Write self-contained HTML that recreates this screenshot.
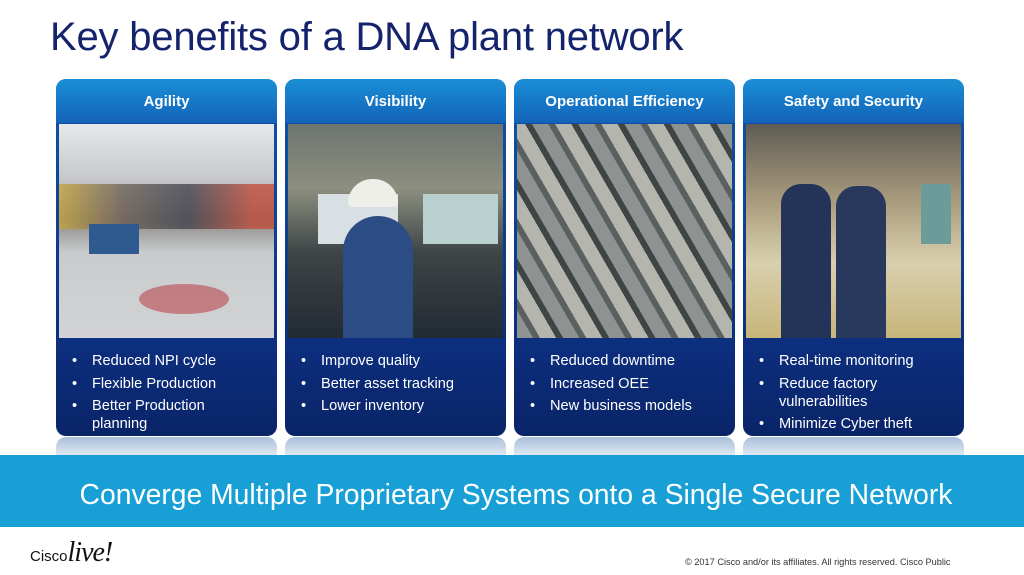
<!DOCTYPE html>
<html><head><meta charset="utf-8"><style>
*{margin:0;padding:0;box-sizing:border-box}
body{width:1024px;height:575px;overflow:hidden;background:#fff;font-family:"Liberation Sans",Arial,sans-serif;position:relative}
.title{position:absolute;left:50px;top:15px;font-size:40px;color:#14236b;letter-spacing:-0.2px}
.card{position:absolute;top:79px;width:221px;height:357px;border-radius:10px;overflow:hidden;
background:linear-gradient(180deg,#1370c4 0px,#0f4fa3 44px,#0c2f80 260px,#0a2468 357px)}
.card .h{position:absolute;top:0;left:0;right:0;height:44px;text-align:center;line-height:46px;color:#fff;font-weight:bold;font-size:15px;
background:linear-gradient(180deg,#1a8fd6,#1363b8)}
.card .img{position:absolute;left:3px;top:45px;width:215px;height:214px}
.card ul{position:absolute;left:16px;top:273px;width:190px;list-style:none;color:#fff;font-size:14.6px;line-height:18px}
.card li{position:relative;padding-left:20px;margin-bottom:4.5px}
.card li:before{content:"•";position:absolute;left:0;top:0}
.refl{position:absolute;top:437px;width:221px;height:18px;border-radius:10px 10px 0 0;background:linear-gradient(180deg,#a9bfd9,#dfe8f2)}
.banner{position:absolute;left:0;top:455px;width:1024px;height:72px;background:#18a0d6;color:#fff;font-size:28.3px;text-align:center;line-height:78px;white-space:nowrap;padding-left:8px}
.foot{position:absolute;left:685px;top:557px;font-size:9.2px;color:#333;white-space:nowrap}
.logo{position:absolute;left:30px;top:537px;color:#111}
</style></head><body>
<div class="title">Key benefits of a DNA plant network</div>

<div class="card" style="left:56px"><div class="h">Agility</div>
<div class="img" style="background:linear-gradient(180deg,#e6e8ea 0%,#c8c9cc 25%,#8c8a86 45%,#c9cbcd 60%,#d2d3d4 100%)">
<div style="position:absolute;left:0;top:60px;width:215px;height:45px;background:linear-gradient(90deg,#c9a53a,#6b5d55 30%,#3c3f4a 60%,#c24a37 90%);opacity:.75"></div>
<div style="position:absolute;left:30px;top:100px;width:50px;height:30px;background:#2f5a90"></div>
<div style="position:absolute;left:80px;top:160px;width:90px;height:30px;border-radius:50%;background:#b9484e;opacity:.6"></div></div>
<ul style="width:175px"><li>Reduced NPI cycle</li><li>Flexible Production</li><li>Better Production planning</li></ul></div>

<div class="card" style="left:285px"><div class="h">Visibility</div>
<div class="img" style="background:linear-gradient(180deg,#6d7470 0%,#8d8f80 30%,#3e4546 60%,#222a33 100%)">
<div style="position:absolute;left:30px;top:70px;width:80px;height:50px;background:#d8e0e4"></div>
<div style="position:absolute;left:135px;top:70px;width:75px;height:50px;background:#b9d0cf"></div>
<div style="position:absolute;left:55px;top:92px;width:70px;height:122px;border-radius:35px 35px 0 0;background:#2c4c86"></div>
<div style="position:absolute;left:60px;top:55px;width:50px;height:28px;border-radius:25px 25px 4px 4px;background:#efefea"></div></div>
<ul><li>Improve quality</li><li>Better asset tracking</li><li>Lower inventory</li></ul></div>

<div class="card" style="left:514px"><div class="h">Operational Efficiency</div>
<div class="img" style="background:repeating-linear-gradient(60deg,#8e9290 0 14px,#5a5f60 14px 20px,#b4b5ac 20px 34px,#3f4445 34px 40px)"></div>
<ul><li>Reduced downtime</li><li>Increased OEE</li><li>New business models</li></ul></div>

<div class="card" style="left:743px"><div class="h">Safety and Security</div>
<div class="img" style="background:linear-gradient(180deg,#5f5c55 0%,#a79a7c 35%,#d9cfae 65%,#c7b57a 100%)">
<div style="position:absolute;left:35px;top:60px;width:50px;height:154px;border-radius:20px 20px 0 0;background:#233458"></div>
<div style="position:absolute;left:90px;top:62px;width:50px;height:152px;border-radius:20px 20px 0 0;background:#29395e"></div>
<div style="position:absolute;left:175px;top:60px;width:30px;height:60px;background:#6c9c9a"></div></div>
<ul><li>Real-time monitoring</li><li>Reduce factory vulnerabilities</li><li>Minimize Cyber theft</li></ul></div>

<div class="refl" style="left:56px"></div><div class="refl" style="left:285px"></div><div class="refl" style="left:514px"></div><div class="refl" style="left:743px"></div>

<div class="banner">Converge Multiple Proprietary Systems onto a Single Secure Network</div>
<div class="logo"><span style="font-size:15px">Cisco</span><span style="font-size:28px;font-style:italic;font-family:'Liberation Serif',serif;letter-spacing:-1px">live!</span></div>
<div class="foot">© 2017  Cisco and/or its affiliates. All rights reserved.   Cisco Public</div>
</body></html>
